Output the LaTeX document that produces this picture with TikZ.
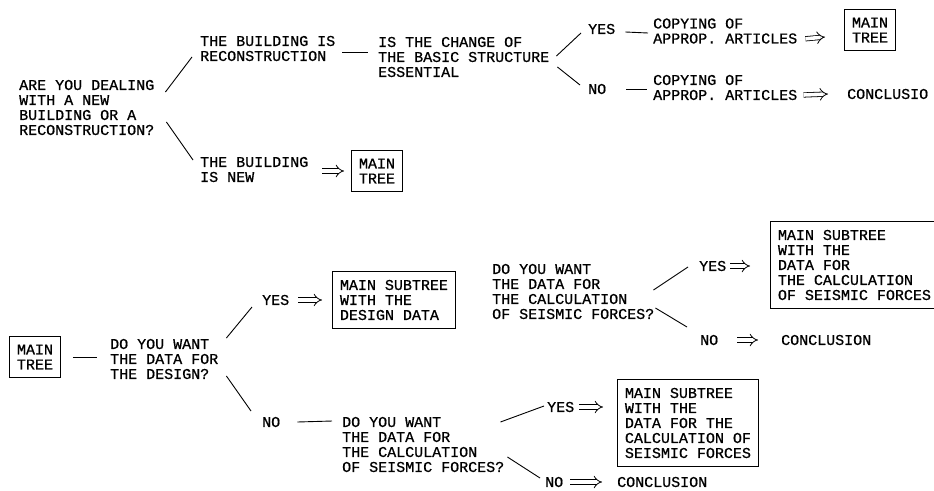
\documentclass[tikz,border=0pt]{standalone}
\usepackage{fontspec}
\newfontfamily\typewriter[FakeBold=0.8]{Liberation Mono}
\usetikzlibrary{arrows.meta,calc}

\begin{document}
\begin{tikzpicture}[x=1pt,y=-1pt,
    txt/.style={anchor=west,inner sep=0pt,align=left,font=\typewriter\fontsize{15}{15}\selectfont},
    box/.style={draw,line width=0.9pt,inner xsep=7.5pt,inner ysep=8pt,align=left,font=\typewriter\fontsize{15}{15}\selectfont},
    link/.style={line width=0.9pt},
    imp/.style={double,double distance=3.6pt,line width=0.8pt,-{Implies}}]
    \useasboundingbox (0,0) rectangle (934,490);

    % New building or reconstruction
    \node[txt] (deal) at (19,107.5) {ARE YOU DEALING\\WITH A NEW\\BUILDING OR A\\RECONSTRUCTION?};
    \node[txt] (recon) at (200,48.5) {THE BUILDING IS\\RECONSTRUCTION};
    \node[txt] (new) at (200,169.5) {THE BUILDING\\IS NEW};
    \node[box,align=center] (tree1) at (377,171) {MAIN\\TREE};
    \draw[link] ($(deal.east)+(11,-15.5)$) -- ($(recon.west)+(-8,8.5)$);
    \draw[link] ($(deal.east)+(12,14.5)$) -- ($(new.west)+(-7,-9.5)$);
    \draw[imp] ($(new.east)+(14,1.5)$) -- ($(tree1.west)+(-7,0)$);

    % Change of the structure
    \node[txt] (change) at (378,57) {IS THE CHANGE OF\\THE BASIC STRUCTURE\\ESSENTIAL};
    \draw[link] ($(recon.east)+(7,3.5)$) -- ($(change.west)+(-10,-5)$);
    \node[txt] (yes1) at (588,29) {YES};
    \node[txt] (no1) at (588,89) {NO};
    \draw[link] ($(change.east)+(7,-1)$) -- ($(yes1.west)+(-7,4)$);
    \draw[link] ($(change.east)+(8,10)$) -- ($(no1.west)+(-8,-4)$);
    \node[txt] (copy1) at (653,31) {COPYING OF\\APPROP. ARTICLES};
    \node[txt] (copy2) at (653,87.5) {COPYING OF\\APPROP. ARTICLES};
    \draw[link] ($(yes1.east)+(10,3)$) -- ($(copy1.west)+(-5,2)$);
    \draw[link] ($(no1.east)+(20,0)$) -- ($(copy2.west)+(-6,1.5)$);
    \node[box,align=center] (tree2) at (870,30) {MAIN\\TREE};
    \node[txt] (concl1) at (847,94) {CONCLUSIO};
    \draw[imp] ($(copy1.south east)+(8,-5)$) -- ($(tree2.west)+(-19,7)$);
    \draw[imp] ($(copy2.south east)+(6,-5.3)$) -- ($(concl1.west)+(-19,0)$);

    % Data for the design
    \node[box,align=center] (tree3) at (35,357) {MAIN\\TREE};
    \node[txt] (design) at (110,359) {DO YOU WANT\\THE DATA FOR\\THE DESIGN?};
    \draw[link] ($(tree3.east)+(12,0)$) -- ($(design.west)+(-13,-2)$);
    \node[txt] (yes2) at (262,300) {YES};
    \node[txt] (no2) at (262,422) {NO};
    \draw[link] ($(design.east)+(8,-21)$) -- ($(yes2.west)+(-10,7)$);
    \draw[link] ($(design.east)+(8,17)$) -- ($(no2.west)+(-11,-11)$);
    \node[box,anchor=west] (sub1) at (332,300) {MAIN SUBTREE\\WITH THE\\DESIGN DATA};
    \draw[imp] ($(yes2.east)+(9,0)$) -- ($(sub1.west)+(-10,0)$);

    % Seismic forces, after NO
    \node[txt] (seis1) at (342,444.5) {DO YOU WANT\\THE DATA FOR\\THE CALCULATION\\OF SEISMIC FORCES?};
    \draw[link] ($(no2.east)+(17,0)$) -- ($(seis1.north west)+(-10,4.3)$);
    \node[txt] (yes3) at (547,407) {YES};
    \node[txt] (no3) at (545,482) {NO};
    \draw[link] ($(seis1.north east)+(-4,5.3)$) -- ($(yes3.west)+(-3,-1)$);
    \draw[link] ($(seis1.east)+(3,12.5)$) -- ($(no3.west)+(-5,-4)$);
    \node[box,anchor=west] (sub3) at (617,423) {MAIN SUBTREE\\WITH THE\\DATA FOR THE\\CALCULATION OF\\SEISMIC FORCES};
    \node[txt] (concl3) at (617,482) {CONCLUSION};
    \draw[imp] ($(yes3.east)+(5,0)$) -- ($(sub3.west)+(-14,-16)$);
    \draw[imp] ($(no3.east)+(7,0)$) -- ($(concl3.west)+(-15,0)$);

    % Seismic forces, upper branch
    \node[txt] (seis2) at (492,291.5) {DO YOU WANT\\THE DATA FOR\\THE CALCULATION\\OF SEISMIC FORCES?};
    \node[txt] (yes4) at (699,266) {YES};
    \node[txt] (no4) at (700,340) {NO};
    \draw[link] ($(seis2.east)+(-1,-1.5)$) -- ($(yes4.west)+(-11,1)$);
    \draw[link] ($(seis2.east)+(1,16.5)$) -- ($(no4.west)+(-13,-13)$);
    \node[box,anchor=west] (sub2) at (770,265) {MAIN SUBTREE\\WITH THE\\DATA FOR\\THE CALCULATION\\OF SEISMIC FORCES};
    \node[txt] (concl2) at (781,340) {CONCLUSION};
    \draw[imp] ($(yes4.east)+(4,0)$) -- ($(sub2.west)+(-20,1)$);
    \draw[imp] ($(no4.east)+(19,0)$) -- ($(concl2.west)+(-23,0)$);
\end{tikzpicture}
\end{document}
